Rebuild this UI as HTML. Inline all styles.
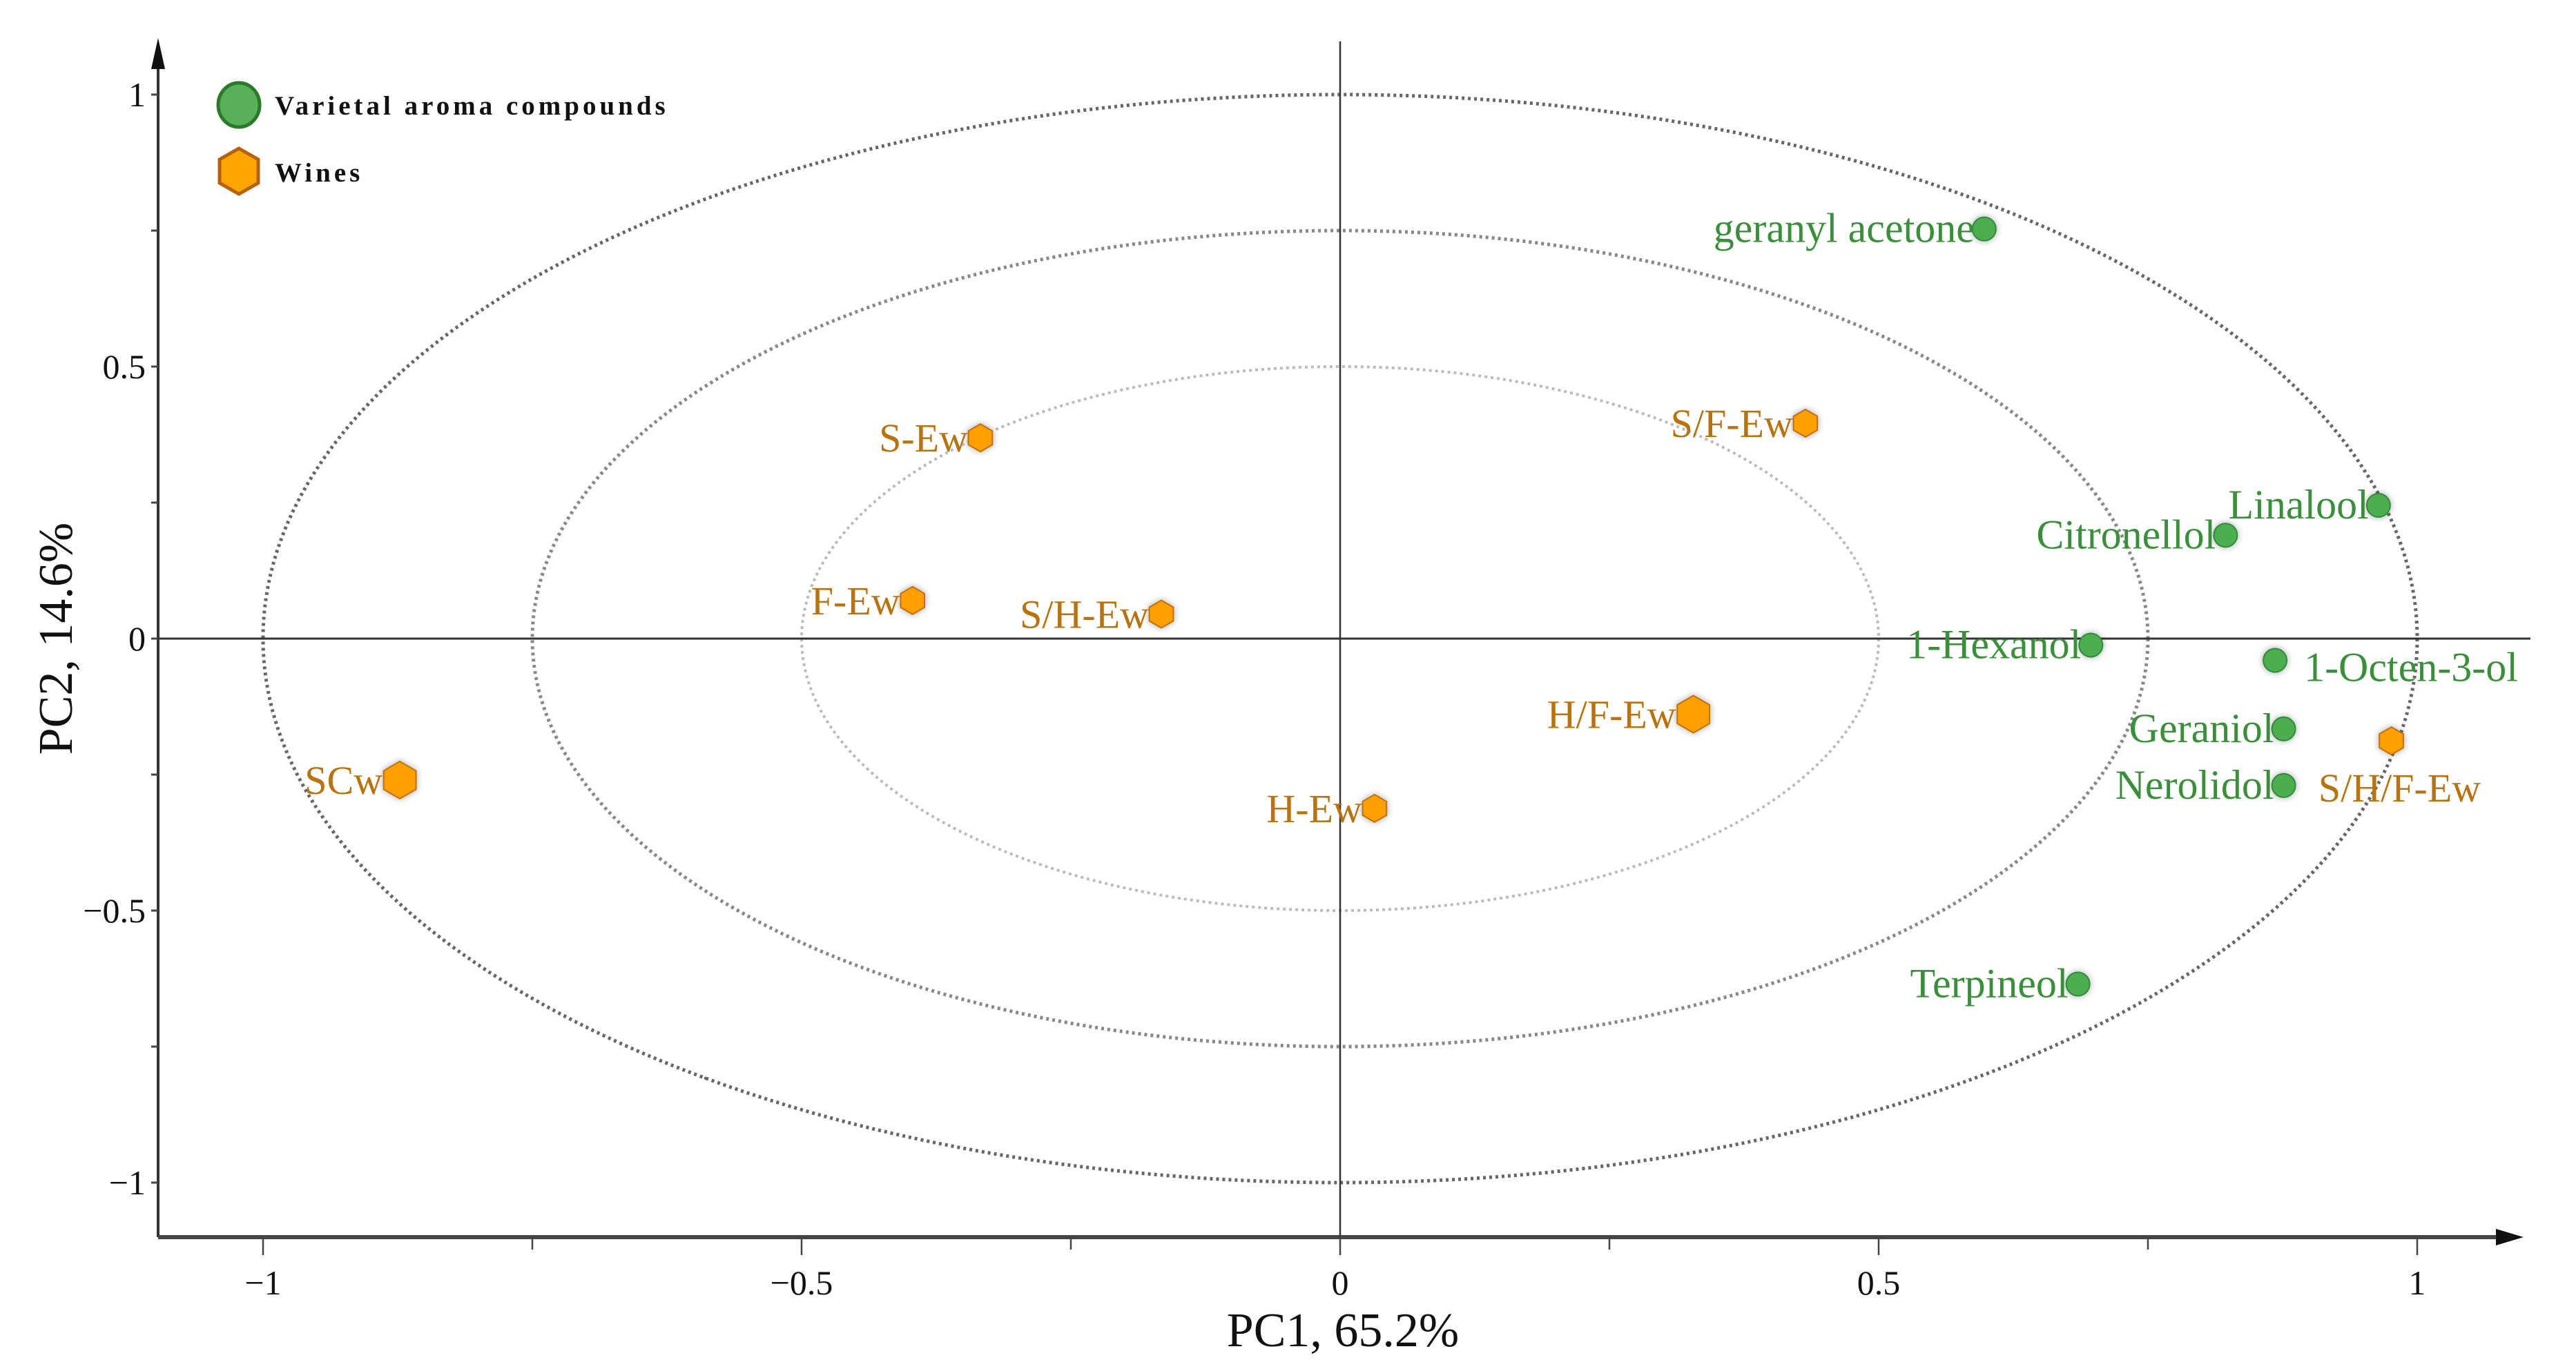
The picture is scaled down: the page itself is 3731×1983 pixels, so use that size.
<!DOCTYPE html>
<html><head><meta charset="utf-8"><style>
html,body{margin:0;padding:0;background:#fff;}
svg{display:block;}
text{font-family:"Liberation Serif",serif;}
</style></head><body>
<svg id="chart" width="3731" height="1983" viewBox="0 0 3731 1983">
<defs>
<filter id="glow" x="-50%" y="-50%" width="200%" height="200%"><feGaussianBlur in="SourceAlpha" stdDeviation="5"/><feComponentTransfer><feFuncA type="linear" slope="0.35"/></feComponentTransfer><feMerge><feMergeNode/><feMergeNode in="SourceGraphic"/></feMerge></filter>
</defs>
<g id="ellipses"></g>
<g id="axes"></g>
<g id="marks"></g>
<g id="legend">
  <ellipse cx="346" cy="152" rx="30" ry="32" fill="#5aaf5a" stroke="#2a7a2a" stroke-width="5"/>
  <text x="398" y="166" font-size="39" font-weight="bold" letter-spacing="5" fill="#111">Varietal aroma compounds</text>
  <polygon points="346,215 374,231 374,265 346,281 318,265 318,231" fill="#ffa500" stroke="#b5620a" stroke-width="5"/>
  <text x="398" y="263" font-size="39" font-weight="bold" letter-spacing="5" fill="#111">Wines</text>
</g>
<text x="1945" y="1950" font-size="70" text-anchor="middle" fill="#111">PC1, 65.2%</text>
<text transform="translate(104,925) rotate(-90)" font-size="70" text-anchor="middle" fill="#111">PC2, 14.6%</text>
</svg>
<script>
const compoundNames = ["geranyl acetone","Linalool","Citronellol","1-Hexanol","1-Octen-3-ol","Geraniol","Nerolidol","Terpineol"];
const compoundPC1 = [0.598,0.964,0.822,0.697,0.868,0.876,0.876,0.685];
const compoundPC2 = [0.753,0.245,0.190,-0.012,-0.040,-0.166,-0.270,-0.635];
const wineNames = ["S-Ew","S/F-Ew","F-Ew","S/H-Ew","H/F-Ew","H-Ew","SCw","S/H/F-Ew"];
const winePC1 = [-0.334,0.432,-0.397,-0.166,0.328,0.032,-0.873,0.976];
const winePC2 = [0.369,0.396,0.070,0.045,-0.139,-0.312,-0.260,-0.188];
const ellipseRadii = [0.5,0.75,1];
const xTicks = [-1,-0.5,0,0.5,1];
const xTickLabels = ["\u22121","\u22120.5","0","0.5","1"];
const yTicks = [1,0.5,0,-0.5,-1];
const yTickLabels = ["1","0.5","0","\u22120.5","\u22121"];

const X0=1941, XU=1560, Y0=925, YU=788;
const sx = v => X0 + v*XU;
const sy = v => Y0 - v*YU;
const NS="http://www.w3.org/2000/svg";
function mk(tag, attrs, parent){const e=document.createElementNS(NS,tag);for(const k in attrs)e.setAttribute(k,attrs[k]);parent.appendChild(e);return e;}
const gE=document.getElementById('ellipses'), gA=document.getElementById('axes'), gM=document.getElementById('marks');

const eStyles=[["#bbb",4],["#888",5],["#666",5]];
ellipseRadii.forEach((r,i)=>{
  const e=mk('ellipse',{cx:sx(0),cy:sy(0),rx:r*XU,ry:r*YU,fill:'none',stroke:eStyles[i][0],'stroke-width':eStyles[i][1],'stroke-dasharray':'4 5'},gE);
  
  
});

const AX=229, AY=1792;
let l=mk('line',{x1:AX,y1:1792,x2:AX,y2:90,stroke:'#333','stroke-width':4},gA);


let p=mk('polygon',{points:`${AX},55 ${AX-10},100 ${AX+10},100`,fill:'#111'},gA);


l=mk('line',{x1:AX,y1:AY,x2:3620,y2:AY,stroke:'#444','stroke-width':6},gA);


p=mk('polygon',{points:`3655,${AY} 3615,${AY-12} 3615,${AY+12}`,fill:'#111'},gA);


l=mk('line',{x1:sx(0),y1:60,x2:sx(0),y2:AY,stroke:'#333','stroke-width':2.5},gA);


l=mk('line',{x1:AX,y1:sy(0),x2:3665,y2:sy(0),stroke:'#333','stroke-width':3},gA);


for(let v=-1;v<=1.001;v+=0.25){
  const t=mk('line',{x1:sx(v),y1:AY,x2:sx(v),y2:AY+(Math.abs(v*2-Math.round(v*2))<0.01?26:18),stroke:'#444','stroke-width':2.5},gA);
  
  
  const u=mk('line',{x1:AX,y1:sy(v),x2:AX-10,y2:sy(v),stroke:'#444','stroke-width':3},gA);
  
  
}
xTicks.forEach((v,i)=>{
  const t=mk('text',{x:sx(v),y:1875,'font-size':50,'text-anchor':'middle',fill:'#111'},gA);
  t.textContent=xTickLabels[i];
  
  
});
yTicks.forEach((v,i)=>{
  const t=mk('text',{x:AX-18,y:sy(v)+17,'font-size':50,'text-anchor':'end',fill:'#111'},gA);
  t.textContent=yTickLabels[i];
  
  
});

compoundNames.forEach((n,i)=>{
  const x=sx(compoundPC1[i]), y=sy(compoundPC2[i]);
  const c=mk('circle',{cx:x,cy:y,r:17,fill:'#4caf50',stroke:'#2e8b3e','stroke-width':2,filter:'url(#glow)'},gM);
  
  
  const right = n==="1-Octen-3-ol";
  const t=mk('text',{x:right?x+42:x-14,y:right?y+30:y+19,'font-size':60,'text-anchor':right?'start':'end',fill:'#3a8f3a'},gM);
  t.textContent=n;
  
  
});
wineNames.forEach((n,i)=>{
  const x=sx(winePC1[i]), y=sy(winePC2[i]);
  const big = (n==="H/F-Ew"||n==="SCw");
  const r = big?27:20;
  const pts=[];
  for(let k=0;k<6;k++){const a=Math.PI/6+k*Math.PI/3;pts.push((x+r*Math.cos(a)).toFixed(1)+','+(y+r*Math.sin(a)).toFixed(1));}
  const h=mk('polygon',{points:pts.join(' '),fill:'#ffa000',stroke:'#c07010','stroke-width':2,filter:'url(#glow)'},gM);
  
  
  const below = n==="S/H/F-Ew";
  const t=mk('text',{x:below?x+12:x-r+2,y:below?y+88:y+20,'font-size':58,'text-anchor':below?'middle':'end',fill:'#b8730e'},gM);
  t.textContent=n;
  
  
});
</script>
</body></html>
